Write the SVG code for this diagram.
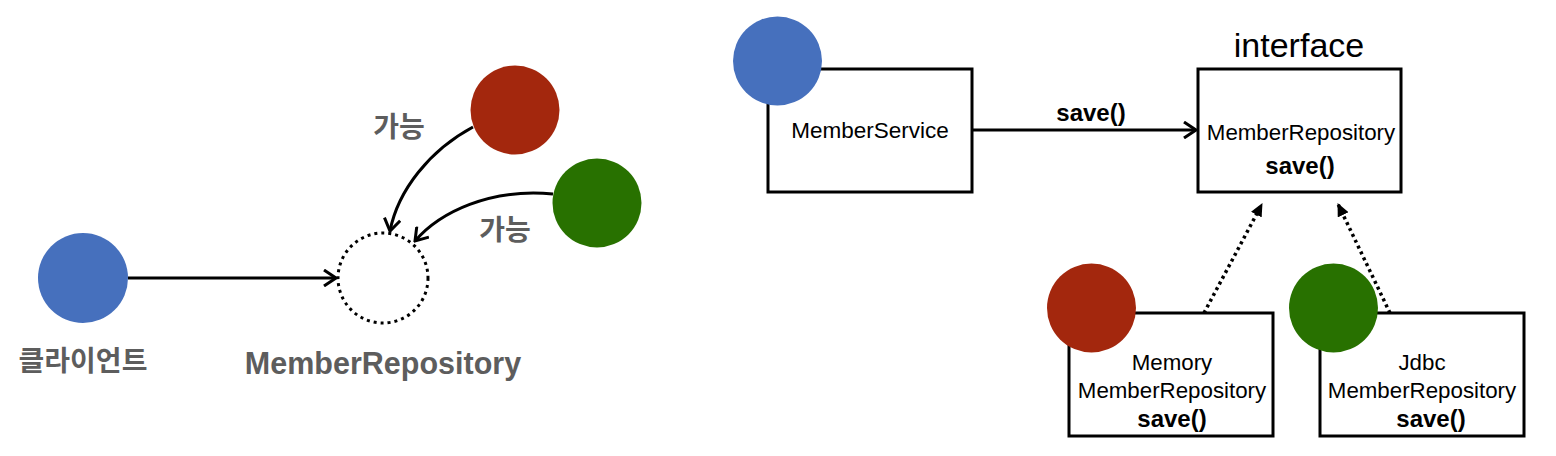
<svg xmlns="http://www.w3.org/2000/svg" width="1556" height="456" viewBox="0 0 1556 456">
  <style>
    .lbl { font-family: "Liberation Sans", Arial, sans-serif; fill: #000; text-anchor: middle; }
    .b { font-weight: bold; }
    .kr { font-family: "Noto Sans CJK KR", "Liberation Sans", sans-serif; fill: #5d5d5d; text-anchor: middle; font-weight: bold; }
    .gray { font-family: "Liberation Sans", Arial, sans-serif; fill: #5d5d5d; text-anchor: middle; font-weight: bold; }
    .box { fill: #fff; stroke: #000; stroke-width: 3; }
    .blue { fill: #4670bd; }
    .red { fill: #a3270d; }
    .green { fill: #287100; }
    .conn { fill: none; stroke: #000; stroke-width: 3; }
    .dots { fill: none; stroke: #000; stroke-width: 3.5; stroke-dasharray: 3 3.5; }
  </style>
  <defs>
    <marker id="open" markerUnits="userSpaceOnUse" viewBox="0 0 16 18" markerWidth="16" markerHeight="18" refX="14" refY="9" orient="auto">
      <path d="M2,1 L14,9 L2,17" fill="none" stroke="#000" stroke-width="3"/>
    </marker>
    <marker id="solid" markerUnits="userSpaceOnUse" viewBox="0 0 13 12" markerWidth="13" markerHeight="12" refX="12" refY="6" orient="auto">
      <path d="M0,0 L13,6 L0,12 Z" fill="#000"/>
    </marker>
  </defs>

  <g id="connectors">
    <path class="conn" d="M128,278 L336,278" marker-end="url(#open)"/>
    <path class="conn" d="M473,127 C430,150 398,190 390,231" marker-end="url(#open)"/>
    <path class="conn" d="M553,194 C490,188 440,212 415,241" marker-end="url(#open)"/>
    <path class="conn" d="M973,130 L1196,130" marker-end="url(#open)"/>
    <path class="dots" d="M1204,313 L1262,204" marker-end="url(#solid)"/>
    <path class="dots" d="M1390,313 L1338,204" marker-end="url(#solid)"/>
  </g>

  <g id="left-client">
    <circle class="blue" cx="83" cy="278" r="45"/>
    <text class="kr" x="83" y="371" font-size="28">클라이언트</text>
  </g>
  <g id="left-repository">
    <circle cx="383" cy="278" r="45" fill="none" stroke="#000" stroke-width="3" stroke-dasharray="3 4"/>
    <text class="gray" x="383" y="374" font-size="30.5">MemberRepository</text>
  </g>
  <g id="left-red">
    <circle class="red" cx="515" cy="110" r="44.5"/>
    <text class="kr" x="399" y="137" font-size="28">가능</text>
  </g>
  <g id="left-green">
    <circle class="green" cx="597" cy="203" r="44.5"/>
    <text class="kr" x="505" y="240" font-size="28">가능</text>
  </g>

  <g id="save-label">
    <text class="lbl b" x="1091" y="121" font-size="24">save()</text>
  </g>

  <g id="member-service">
    <rect class="box" x="768" y="69" width="204" height="123"/>
    <circle class="blue" cx="777.5" cy="61" r="44.5"/>
    <text class="lbl" x="870" y="138" font-size="22.5">MemberService</text>
  </g>

  <g id="member-repository">
    <text class="lbl" x="1299" y="57" font-size="34">interface</text>
    <rect class="box" x="1198" y="69" width="203" height="123"/>
    <text class="lbl" x="1301" y="140" font-size="22.3">MemberRepository</text>
    <text class="lbl b" x="1300" y="174" font-size="24">save()</text>
  </g>

  <g id="memory-repository">
    <rect class="box" x="1069" y="313" width="204" height="123"/>
    <circle class="red" cx="1091.5" cy="308" r="44.5"/>
    <text class="lbl" x="1172" y="370" font-size="22.3">Memory</text>
    <text class="lbl" x="1172" y="398" font-size="22.3">MemberRepository</text>
    <text class="lbl b" x="1172" y="427" font-size="24">save()</text>
  </g>

  <g id="jdbc-repository">
    <rect class="box" x="1320" y="313" width="204" height="123"/>
    <circle class="green" cx="1333.5" cy="308" r="44.5"/>
    <text class="lbl" x="1422" y="370" font-size="22.3">Jdbc</text>
    <text class="lbl" x="1422" y="398" font-size="22.3">MemberRepository</text>
    <text class="lbl b" x="1431" y="427" font-size="24">save()</text>
  </g>
</svg>
